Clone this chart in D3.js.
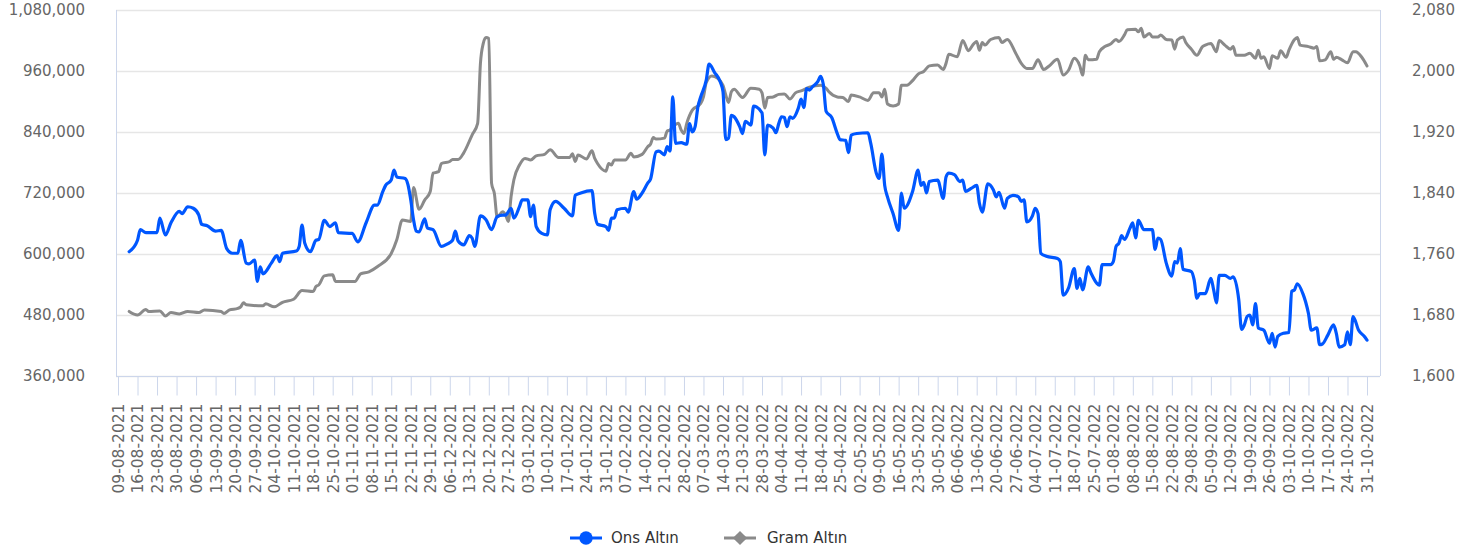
<!DOCTYPE html>
<html><head><meta charset="utf-8">
<script src="https://cdn.jsdelivr.net/npm/d3@7"></script>
<style>body{margin:0;background:#fff} svg{display:block}</style>
</head><body><svg id="c" width="1474" height="554"></svg>
<script>
const tickLabels = ["09-08-2021","16-08-2021","23-08-2021","30-08-2021","06-09-2021","13-09-2021","20-09-2021","27-09-2021","04-10-2021","11-10-2021","18-10-2021","25-10-2021","01-11-2021","08-11-2021","15-11-2021","22-11-2021","29-11-2021","06-12-2021","13-12-2021","20-12-2021","27-12-2021","03-01-2022","10-01-2022","17-01-2022","24-01-2022","31-01-2022","07-02-2022","14-02-2022","21-02-2022","28-02-2022","07-03-2022","14-03-2022","21-03-2022","28-03-2022","04-04-2022","11-04-2022","18-04-2022","25-04-2022","02-05-2022","09-05-2022","16-05-2022","23-05-2022","30-05-2022","06-06-2022","13-06-2022","20-06-2022","27-06-2022","04-07-2022","11-07-2022","18-07-2022","25-07-2022","01-08-2022","08-08-2022","15-08-2022","22-08-2022","29-08-2022","05-09-2022","12-09-2022","19-09-2022","26-09-2022","03-10-2022","10-10-2022","17-10-2022","24-10-2022","31-10-2022"];
const leftTicks = [360000,480000,600000,720000,840000,960000,1080000];
const rightTicks = [1600,1680,1760,1840,1920,2000,2080];
const seriesNames = ["Ons Altın","Gram Altın"];

const onsDates = ["13-08-2021","16-08-2021","17-08-2021","19-08-2021","23-08-2021","24-08-2021","26-08-2021","28-08-2021","31-08-2021","01-09-2021","03-09-2021","05-09-2021","07-09-2021","08-09-2021","10-09-2021","13-09-2021","15-09-2021","17-09-2021","19-09-2021","21-09-2021","22-09-2021","24-09-2021","25-09-2021","27-09-2021","28-09-2021","29-09-2021","30-09-2021","03-10-2021","05-10-2021","06-10-2021","07-10-2021","12-10-2021","13-10-2021","14-10-2021","15-10-2021","17-10-2021","19-10-2021","20-10-2021","22-10-2021","24-10-2021","26-10-2021","27-10-2021","01-11-2021","03-11-2021","06-11-2021","09-11-2021","10-11-2021","12-11-2021","13-11-2021","15-11-2021","16-11-2021","17-11-2021","20-11-2021","21-11-2021","22-11-2021","23-11-2021","24-11-2021","25-11-2021","27-11-2021","28-11-2021","30-11-2021","03-12-2021","05-12-2021","07-12-2021","08-12-2021","09-12-2021","11-12-2021","13-12-2021","14-12-2021","15-12-2021","17-12-2021","19-12-2021","21-12-2021","23-12-2021","25-12-2021","26-12-2021","28-12-2021","29-12-2021","31-12-2021","01-01-2022","03-01-2022","04-01-2022","05-01-2022","06-01-2022","08-01-2022","10-01-2022","11-01-2022","13-01-2022","16-01-2022","19-01-2022","20-01-2022","22-01-2022","26-01-2022","27-01-2022","28-01-2022","31-01-2022","01-02-2022","02-02-2022","03-02-2022","04-02-2022","07-02-2022","08-02-2022","10-02-2022","11-02-2022","13-02-2022","15-02-2022","16-02-2022","18-02-2022","19-02-2022","21-02-2022","22-02-2022","23-02-2022","24-02-2022","25-02-2022","27-02-2022","01-03-2022","02-03-2022","03-03-2022","04-03-2022","05-03-2022","06-03-2022","08-03-2022","09-03-2022","11-03-2022","13-03-2022","14-03-2022","15-03-2022","16-03-2022","17-03-2022","18-03-2022","20-03-2022","21-03-2022","22-03-2022","24-03-2022","25-03-2022","26-03-2022","28-03-2022","29-03-2022","30-03-2022","01-04-2022","02-04-2022","03-04-2022","04-04-2022","05-04-2022","06-04-2022","07-04-2022","08-04-2022","10-04-2022","11-04-2022","12-04-2022","13-04-2022","14-04-2022","15-04-2022","17-04-2022","18-04-2022","19-04-2022","20-04-2022","22-04-2022","24-04-2022","25-04-2022","27-04-2022","28-04-2022","29-04-2022","01-05-2022","05-05-2022","06-05-2022","08-05-2022","09-05-2022","10-05-2022","11-05-2022","12-05-2022","14-05-2022","16-05-2022","17-05-2022","18-05-2022","21-05-2022","23-05-2022","24-05-2022","25-05-2022","26-05-2022","27-05-2022","30-05-2022","01-06-2022","02-06-2022","03-06-2022","05-06-2022","07-06-2022","08-06-2022","09-06-2022","11-06-2022","13-06-2022","14-06-2022","15-06-2022","17-06-2022","19-06-2022","20-06-2022","21-06-2022","23-06-2022","24-06-2022","26-06-2022","28-06-2022","29-06-2022","30-06-2022","01-07-2022","03-07-2022","04-07-2022","05-07-2022","06-07-2022","08-07-2022","12-07-2022","13-07-2022","14-07-2022","16-07-2022","18-07-2022","19-07-2022","20-07-2022","21-07-2022","23-07-2022","24-07-2022","26-07-2022","27-07-2022","28-07-2022","31-07-2022","01-08-2022","02-08-2022","03-08-2022","04-08-2022","05-08-2022","07-08-2022","08-08-2022","09-08-2022","10-08-2022","12-08-2022","15-08-2022","16-08-2022","17-08-2022","18-08-2022","20-08-2022","22-08-2022","23-08-2022","24-08-2022","25-08-2022","26-08-2022","29-08-2022","30-08-2022","31-08-2022","01-09-2022","03-09-2022","05-09-2022","06-09-2022","07-09-2022","08-09-2022","10-09-2022","12-09-2022","13-09-2022","15-09-2022","16-09-2022","17-09-2022","18-09-2022","19-09-2022","20-09-2022","21-09-2022","22-09-2022","24-09-2022","26-09-2022","27-09-2022","28-09-2022","29-09-2022","01-10-2022","03-10-2022","04-10-2022","05-10-2022","06-10-2022","08-10-2022","09-10-2022","10-10-2022","11-10-2022","13-10-2022","14-10-2022","15-10-2022","17-10-2022","19-10-2022","20-10-2022","21-10-2022","23-10-2022","24-10-2022","25-10-2022","26-10-2022","28-10-2022","30-10-2022","31-10-2022"];
const onsValues = [1763,1778,1792,1788,1788,1807,1785,1801,1816,1813,1822,1820,1811,1799,1797,1790,1791,1767,1761,1761,1778,1748,1747,1752,1724,1743,1734,1748,1758,1750,1761,1764,1770,1798,1774,1763,1778,1779,1804,1796,1801,1788,1787,1776,1801,1824,1824,1842,1850,1857,1870,1861,1859,1851,1831,1805,1790,1789,1806,1794,1792,1770,1773,1778,1790,1777,1772,1784,1781,1770,1810,1805,1792,1809,1811,1811,1820,1807,1822,1831,1831,1809,1824,1796,1787,1785,1818,1829,1820,1810,1837,1840,1843,1813,1799,1796,1791,1807,1807,1818,1820,1815,1842,1832,1840,1853,1858,1894,1895,1890,1901,1895,1966,1905,1906,1904,1931,1920,1927,1953,1966,1988,2009,1998,1986,1973,1910,1912,1942,1940,1927,1918,1934,1929,1954,1953,1945,1890,1929,1925,1919,1931,1940,1939,1927,1940,1938,1951,1963,1952,1977,1975,1979,1986,1993,1982,1947,1939,1918,1910,1909,1893,1916,1918,1919,1905,1866,1859,1891,1850,1835,1813,1791,1840,1820,1842,1870,1850,1854,1840,1855,1857,1833,1861,1866,1864,1855,1857,1842,1846,1850,1826,1815,1852,1844,1835,1841,1820,1833,1837,1835,1829,1831,1802,1810,1820,1813,1761,1757,1754,1750,1706,1716,1741,1715,1728,1713,1743,1735,1722,1719,1746,1746,1750,1770,1774,1784,1779,1794,1801,1781,1804,1792,1792,1766,1781,1779,1748,1731,1750,1748,1767,1740,1737,1726,1702,1708,1708,1728,1713,1696,1732,1732,1728,1730,1700,1661,1667,1678,1680,1667,1695,1663,1660,1643,1656,1638,1652,1656,1657,1711,1713,1721,1708,1697,1682,1660,1663,1641,1642,1654,1667,1656,1638,1641,1658,1641,1678,1660,1652,1647];

const gramDates = ["13-08-2021","16-08-2021","19-08-2021","20-08-2021","24-08-2021","26-08-2021","28-08-2021","31-08-2021","03-09-2021","07-09-2021","09-09-2021","15-09-2021","16-09-2021","18-09-2021","21-09-2021","22-09-2021","23-09-2021","24-09-2021","30-09-2021","01-10-2021","04-10-2021","07-10-2021","11-10-2021","14-10-2021","18-10-2021","19-10-2021","20-10-2021","22-10-2021","25-10-2021","26-10-2021","02-11-2021","04-11-2021","07-11-2021","10-11-2021","15-11-2021","17-11-2021","19-11-2021","22-11-2021","23-11-2021","25-11-2021","27-11-2021","29-11-2021","30-11-2021","02-12-2021","03-12-2021","06-12-2021","07-12-2021","09-12-2021","11-12-2021","14-12-2021","16-12-2021","17-12-2021","18-12-2021","19-12-2021","20-12-2021","21-12-2021","22-12-2021","23-12-2021","25-12-2021","26-12-2021","27-12-2021","28-12-2021","29-12-2021","31-12-2021","02-01-2022","04-01-2022","06-01-2022","09-01-2022","11-01-2022","14-01-2022","18-01-2022","19-01-2022","20-01-2022","21-01-2022","24-01-2022","26-01-2022","27-01-2022","28-01-2022","31-01-2022","01-02-2022","02-02-2022","03-02-2022","07-02-2022","09-02-2022","10-02-2022","13-02-2022","15-02-2022","16-02-2022","17-02-2022","18-02-2022","21-02-2022","22-02-2022","23-02-2022","24-02-2022","26-02-2022","27-02-2022","28-02-2022","01-03-2022","03-03-2022","06-03-2022","07-03-2022","08-03-2022","10-03-2022","12-03-2022","14-03-2022","15-03-2022","16-03-2022","17-03-2022","18-03-2022","21-03-2022","24-03-2022","27-03-2022","28-03-2022","29-03-2022","30-03-2022","01-04-2022","03-04-2022","05-04-2022","07-04-2022","09-04-2022","11-04-2022","14-04-2022","18-04-2022","20-04-2022","21-04-2022","24-04-2022","26-04-2022","28-04-2022","29-04-2022","02-05-2022","05-05-2022","07-05-2022","09-05-2022","10-05-2022","11-05-2022","12-05-2022","14-05-2022","16-05-2022","17-05-2022","19-05-2022","21-05-2022","23-05-2022","25-05-2022","27-05-2022","30-05-2022","01-06-2022","02-06-2022","03-06-2022","06-06-2022","08-06-2022","10-06-2022","12-06-2022","13-06-2022","14-06-2022","15-06-2022","16-06-2022","18-06-2022","21-06-2022","22-06-2022","24-06-2022","27-06-2022","29-06-2022","01-07-2022","03-07-2022","05-07-2022","07-07-2022","09-07-2022","12-07-2022","14-07-2022","16-07-2022","18-07-2022","20-07-2022","21-07-2022","22-07-2022","23-07-2022","26-07-2022","27-07-2022","29-07-2022","31-07-2022","02-08-2022","03-08-2022","05-08-2022","06-08-2022","09-08-2022","10-08-2022","11-08-2022","12-08-2022","14-08-2022","15-08-2022","17-08-2022","18-08-2022","20-08-2022","22-08-2022","23-08-2022","24-08-2022","26-08-2022","27-08-2022","29-08-2022","31-08-2022","02-09-2022","03-09-2022","05-09-2022","07-09-2022","08-09-2022","10-09-2022","12-09-2022","13-09-2022","14-09-2022","17-09-2022","19-09-2022","21-09-2022","22-09-2022","23-09-2022","24-09-2022","26-09-2022","27-09-2022","29-09-2022","30-09-2022","02-10-2022","03-10-2022","05-10-2022","06-10-2022","07-10-2022","10-10-2022","12-10-2022","13-10-2022","14-10-2022","16-10-2022","18-10-2022","19-10-2022","20-10-2022","22-10-2022","24-10-2022","26-10-2022","27-10-2022","29-10-2022","31-10-2022"];
const gramValues = [487000,480000,491000,487000,488000,478000,485000,482000,487000,485000,490000,487000,483000,490000,493000,496000,504000,500000,498000,502000,496000,505000,511000,528000,526000,536000,539000,557000,559000,546000,546000,561000,565000,575000,601000,628000,667000,664000,731000,688000,706000,723000,759000,762000,778000,782000,786000,786000,799000,834000,857000,975000,1014000,1026000,1024000,739000,719000,673000,683000,677000,664000,713000,746000,775000,788000,785000,793000,796000,805000,790000,790000,797000,782000,795000,787000,803000,788000,778000,763000,778000,775000,785000,785000,798000,791000,796000,811000,816000,829000,826000,828000,842000,844000,850000,857000,844000,837000,857000,883000,896000,909000,937000,950000,946000,932000,913000,898000,919000,924000,908000,926000,924000,917000,887000,908000,909000,914000,915000,905000,917000,921000,928000,932000,926000,919000,909000,908000,900000,913000,909000,902000,917000,917000,909000,924000,895000,891000,895000,932000,932000,941000,954000,959000,970000,972000,963000,975000,993000,988000,1020000,1000000,1014000,1018000,1001000,1016000,1011000,1022000,1026000,1016000,1022000,995000,975000,965000,965000,982000,963000,970000,983000,952000,962000,985000,970000,952000,991000,982000,983000,998000,1008000,1013000,1022000,1018000,1031000,1041000,1042000,1037000,1044000,1027000,1034000,1027000,1027000,1031000,1022000,1021000,1003000,1021000,1027000,1016000,1003000,991000,1008000,1011000,1014000,998000,1020000,1011000,1003000,1008000,991000,991000,995000,985000,1001000,985000,988000,965000,990000,985000,1000000,987000,1001000,1022000,1026000,1011000,1008000,1005000,1008000,980000,982000,998000,983000,987000,982000,976000,998000,998000,988000,970000];

const W = 1474, H = 554;
const plotL = 116, plotR = 1380, plotT = 10, plotB = 376;
const FONT = "DejaVu Sans";
const parse = d3.timeParse("%d-%m-%Y");
const svg = d3.select("#c");

const tickDates = tickLabels.map(parse);
const x = d3.scaleTime().domain([tickDates[0], tickDates[tickDates.length-1]]).range([118, 1367]);
const yL = d3.scaleLinear().domain([360000, 1080000]).range([plotB, plotT]);
const yR = d3.scaleLinear().domain([1600, 2080]).range([plotB, plotT]);

// gridlines
svg.append("g").selectAll("line").data(leftTicks).join("line")
  .attr("x1", plotL).attr("x2", plotR)
  .attr("y1", d => Math.round(yL(d)) + 0.5).attr("y2", d => Math.round(yL(d)) + 0.5)
  .attr("stroke", "#e6e6e6").attr("stroke-width", 1.5);

// frame axes
svg.append("line").attr("x1", plotL+0.5).attr("x2", plotL+0.5).attr("y1", plotT).attr("y2", plotB).attr("stroke", "#ccd6eb");
svg.append("line").attr("x1", plotR+0.5).attr("x2", plotR+0.5).attr("y1", plotT).attr("y2", plotB).attr("stroke", "#ccd6eb");

// x axis
const xAxis = d3.axisBottom(x).tickValues(tickDates).tickSize(19).tickFormat((d,i) => tickLabels[i]);
const gx = svg.append("g").attr("transform", `translate(0,${plotB+0.5})`).call(xAxis);
gx.select(".domain").attr("d", `M${plotL},0H${plotR}`).attr("stroke", "#ccd6eb");
gx.selectAll(".tick line").attr("stroke", "#ccd6eb");
gx.selectAll(".tick text")
  .attr("font-family", FONT).attr("font-size", 15.5).attr("fill", "#666")
  .attr("text-anchor", "end").attr("transform", "rotate(-90)")
  .attr("x", -27).attr("y", 0).attr("dy", "0.35em");

// left y axis
const gyl = svg.append("g").attr("transform", `translate(${plotL},0)`)
  .call(d3.axisLeft(yL).tickValues(leftTicks).tickSize(0).tickPadding(31).tickFormat(d3.format(",")));
gyl.select(".domain").remove();
gyl.selectAll("text").attr("font-family", FONT).attr("font-size", 15).attr("fill", "#666");

// right y axis
const gyr = svg.append("g").attr("transform", `translate(${plotR},0)`)
  .call(d3.axisRight(yR).tickValues(rightTicks).tickSize(0).tickPadding(32).tickFormat(d3.format(",")));
gyr.select(".domain").remove();
gyr.selectAll("text").attr("font-family", FONT).attr("font-size", 15).attr("fill", "#666");

// lines
const gramData = gramDates.map((d,i) => ({date: parse(d), v: gramValues[i]}));
const onsData = onsDates.map((d,i) => ({date: parse(d), v: onsValues[i]}));
const lineL = d3.line().x(d => x(d.date)).y(d => yL(d.v)).curve(d3.curveMonotoneX);
const lineR = d3.line().x(d => x(d.date)).y(d => yR(d.v)).curve(d3.curveMonotoneX);

svg.append("path").datum(gramData).attr("d", lineL)
  .attr("fill", "none").attr("stroke", "#8a8a8a").attr("stroke-width", 3)
  .attr("stroke-linejoin", "round").attr("stroke-linecap", "round");
svg.append("path").datum(onsData).attr("d", lineR)
  .attr("fill", "none").attr("stroke", "#0057ff").attr("stroke-width", 3.2)
  .attr("stroke-linejoin", "round").attr("stroke-linecap", "round");

// legend
const lg = svg.append("g");
const legendItems = [
  {name: seriesNames[0], color: "#0057ff", sym: d3.symbolCircle, size: 140, rot: 0, x0: 570, tx: 611},
  {name: seriesNames[1], color: "#8a8a8a", sym: d3.symbolSquare, size: 100, rot: 45, x0: 724, tx: 767}
];
const ly = 538;
legendItems.forEach(it => {
  lg.append("line").attr("x1", it.x0).attr("x2", it.x0 + 32).attr("y1", ly).attr("y2", ly)
    .attr("stroke", it.color).attr("stroke-width", 3);
  lg.append("path").attr("d", d3.symbol().type(it.sym).size(it.size)())
    .attr("transform", `translate(${it.x0 + 16},${ly}) rotate(${it.rot})`).attr("fill", it.color);
  lg.append("text").attr("x", it.tx).attr("y", ly).attr("dy", "0.35em")
    .attr("font-family", FONT).attr("font-size", 15).attr("fill", "#333").text(it.name);
});
</script>
</body></html>
